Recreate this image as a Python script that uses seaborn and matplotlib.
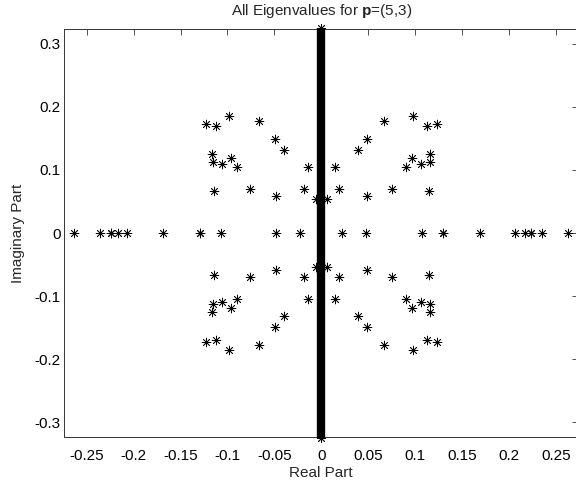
import numpy as np
import pandas as pd
import matplotlib
matplotlib.use("Agg")
import matplotlib.pyplot as plt
import seaborn as sns

# ---- data ----
# complex eigenvalues, upper-right quadrant
re_ur = [0.123, 0.1124, 0.098, 0.0668, 0.0488, 0.0396, 0.0146, 0.1161, 0.1156,
         0.1058, 0.0962, 0.090, 0.1143, 0.0757, 0.0482, 0.0185, 0.006]
im_ur = [0.1728, 0.1694, 0.1855, 0.178, 0.1487, 0.1322, 0.1052, 0.1252, 0.113,
         0.109, 0.119, 0.1048, 0.0667, 0.0706, 0.0592, 0.070, 0.054]
# upper-left quadrant
re_ul = [-0.123, -0.1124, -0.098, -0.0668, -0.0488, -0.0396, -0.0146, -0.1161, -0.1156,
         -0.1058, -0.0962, -0.090, -0.1143, -0.0757, -0.0482, -0.0185, -0.006]
im_ul = [0.1728, 0.1694, 0.1855, 0.178, 0.1487, 0.1322, 0.1052, 0.1252, 0.113,
         0.109, 0.119, 0.1048, 0.0667, 0.0706, 0.0592, 0.070, 0.054]
# lower-left quadrant
re_ll = [-0.123, -0.1124, -0.098, -0.0668, -0.0488, -0.0396, -0.0146, -0.1161, -0.1156,
         -0.1058, -0.0962, -0.090, -0.1143, -0.0757, -0.0482, -0.0185, -0.006]
im_ll = [-0.1728, -0.1694, -0.1855, -0.178, -0.1487, -0.1322, -0.1052, -0.1252, -0.113,
         -0.109, -0.119, -0.1048, -0.0667, -0.0706, -0.0592, -0.070, -0.054]
# lower-right quadrant
re_lr = [0.123, 0.1124, 0.098, 0.0668, 0.0488, 0.0396, 0.0146, 0.1161, 0.1156,
         0.1058, 0.0962, 0.090, 0.1143, 0.0757, 0.0482, 0.0185, 0.006]
im_lr = [-0.1728, -0.1694, -0.1855, -0.178, -0.1487, -0.1322, -0.1052, -0.1252, -0.113,
         -0.109, -0.119, -0.1048, -0.0667, -0.0706, -0.0592, -0.070, -0.054]
# real eigenvalues
re_real = [-0.263, -0.2355, -0.2237, -0.2237, -0.2165, -0.2065, -0.1688, -0.1293, -0.1293,
           -0.1069, -0.0478, -0.0224, 0.0224, 0.0478, 0.1069, 0.1293, 0.1293, 0.1688,
           0.2065, 0.2165, 0.2237, 0.2237, 0.2355, 0.263]
im_real = [0.0] * len(re_real)
# purely imaginary eigenvalues: dense band along the imaginary axis (extent)
imag_axis_re = [0.0, 0.0]
imag_axis_im = [-0.326, 0.326]

xticks = [-0.25, -0.2, -0.15, -0.1, -0.05, 0, 0.05, 0.1, 0.15, 0.2, 0.25]
xticklabels = ["-0.25", "-0.2", "-0.15", "-0.1", "-0.05", "0", "0.05", "0.1", "0.15", "0.2", "0.25"]
yticks = [-0.3, -0.2, -0.1, 0, 0.1, 0.2, 0.3]
yticklabels = ["-0.3", "-0.2", "-0.1", "0", "0.1", "0.2", "0.3"]

df = pd.DataFrame({
    "re": re_ur + re_ul + re_ll + re_lr + re_real,
    "im": im_ur + im_ul + im_ll + im_lr + im_real,
})

sns.set_style("white")
plt.rcParams["font.family"] = ["Liberation Sans", "DejaVu Sans"]
plt.rcParams["mathtext.fontset"] = "custom"
plt.rcParams["mathtext.rm"] = "Liberation Sans"
plt.rcParams["mathtext.bf"] = "Liberation Sans:bold"

FS = 11
fig = plt.figure(figsize=(5.76, 4.83), dpi=100)
W, H = 576, 483
left, right, top, bottom = 64.3, 578.3, 29.3, 436.7
ax = fig.add_axes([left / W, (H - bottom) / H, (right - left) / W, (bottom - top) / H])

# imaginary-axis band
ax.plot(imag_axis_re, imag_axis_im, color="black", lw=6.0, solid_capstyle="butt",
        marker=(8, 2, 0), markersize=6.5, markeredgewidth=0.6, clip_on=False, zorder=3)

sns.scatterplot(data=df, x="re", y="im", ax=ax, marker=(8, 2, 0), s=40,
                color="black", edgecolor="black", linewidth=0.55, legend=False, zorder=4)

ax.set_xlim(-0.2738, 0.2738)
ax.set_ylim(-0.3233, 0.3233)
ax.set_xticks(xticks)
ax.set_xticklabels(xticklabels)
ax.set_yticks(yticks)
ax.set_yticklabels(yticklabels)
ax.tick_params(direction="in", length=4.5, width=0.6, top=True, right=True,
               labelsize=FS, colors="#333333", labelcolor="black")
ax.tick_params(axis="x", pad=9)
ax.tick_params(axis="y", pad=2.5)
for s in ax.spines.values():
    s.set_visible(True)
    s.set_color("#333333")
    s.set_linewidth(0.7)

ax.set_xlabel("Real Part", fontsize=FS)
ax.set_ylabel("Imaginary Part", fontsize=FS)
ax.xaxis.set_label_coords(0.5, -0.073)
ax.yaxis.set_label_coords(-0.0765, 0.5)
ax.set_title(r"All Eigenvalues for $\mathbf{p}$=(5,3)", fontsize=FS, pad=10)

fig.savefig("out.png", dpi=100)
